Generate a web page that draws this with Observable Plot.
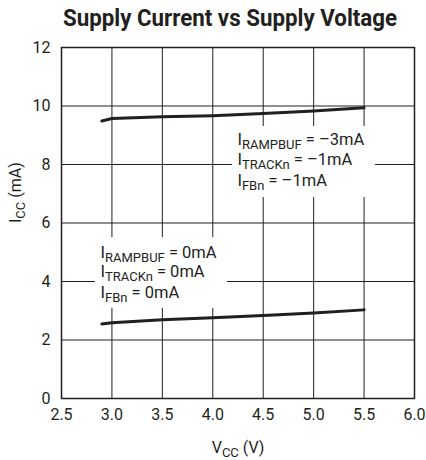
<!DOCTYPE html>
<html>
<head>
<meta charset="utf-8">
<script src="https://cdn.jsdelivr.net/npm/d3@7"></script>
<script src="https://cdn.jsdelivr.net/npm/@observablehq/plot@0.6"></script>
<style>
  body { margin: 0; background: #fff; }
  #title {
    position: relative; height: 34px; width: 426px;
  }
  #title span {
    position: absolute; left: 230px; top: 4px;
    transform: translateX(-50%) scaleX(0.93);
    white-space: nowrap;
    font-family: Roboto, "Liberation Sans", sans-serif;
    font-weight: bold; font-size: 24px; line-height: 28px;
    color: #231f20;
  }
</style>
</head>
<body>
<div id="title"><span>Supply Current vs Supply Voltage</span></div>
<div id="chart"></div>
<script>
// ---- data ----
const vcc = [2.9, 3.0, 3.5, 4.0, 4.5, 5.0, 5.5];
const iccLoaded = [9.49, 9.57, 9.63, 9.67, 9.74, 9.83, 9.94];
const iccNoLoad = [2.55, 2.59, 2.69, 2.76, 2.84, 2.92, 3.03];
const xTicks = [2.5, 3.0, 3.5, 4.0, 4.5, 5.0, 5.5, 6.0];
const yTicks = [0, 2, 4, 6, 8, 10, 12];
const xLabel = "V_{CC} (V)";
const yLabel = "I_{CC} (mA)";
const loadedLabels = ["I_{RAMPBUF} = –3mA", "I_{TRACKn} = –1mA", "I_{FBn} = –1mA"];
const noLoadLabels = ["I_{RAMPBUF} = 0mA", "I_{TRACKn} = 0mA", "I_{FBn} = 0mA"];
// annotation anchors (data units)
const loadedLabelX = 4.244, loadedLabelY = [8.65, 7.97, 7.25];
const noLoadLabelX = 2.887, noLoadLabelY = [4.82, 4.14, 3.45];
const loadedBox = {x1: 4.195, x2: 5.613, y1: 6.87, y2: 9.30};
const noLoadBox = {x1: 2.837, x2: 4.146, y1: 3.08, y2: 5.50};

const loaded = vcc.map((v, i) => ({v, i: iccLoaded[i]}));
const noload = vcc.map((v, i) => ({v, i: iccNoLoad[i]}));
const labels = [
  ...loadedLabels.map((t, k) => ({x: loadedLabelX, y: loadedLabelY[k], t})),
  ...noLoadLabels.map((t, k) => ({x: noLoadLabelX, y: noLoadLabelY[k], t}))
];

const FONT = `Roboto, "Liberation Sans", sans-serif`;
const INK = "#231f20";

const svg = Plot.plot({
  width: 426,
  height: 426,
  marginTop: 13,
  marginBottom: 62,
  marginLeft: 61,
  marginRight: 12,
  style: {fontFamily: FONT, fontSize: "16px", color: INK, background: "#fff"},
  x: {domain: [2.5, 6.0]},
  y: {domain: [0, 12]},
  marks: [
    Plot.ruleX(xTicks, {stroke: INK, strokeWidth: 1}),
    Plot.ruleY(yTicks, {stroke: INK, strokeWidth: 1}),
    Plot.rect([loadedBox, noLoadBox], {x1: "x1", x2: "x2", y1: "y1", y2: "y2", fill: "#fff"}),
    Plot.line(loaded, {x: "v", y: "i", stroke: INK, strokeWidth: 3}),
    Plot.line(noload, {x: "v", y: "i", stroke: INK, strokeWidth: 3}),
    Plot.frame({stroke: INK, strokeWidth: 1.5}),
    Plot.text(labels, {x: "x", y: "y", text: "t", textAnchor: "start", lineAnchor: "bottom", fontSize: 16.5, fill: INK}),
    Plot.axisX({ticks: xTicks, tickSize: 0, tickPadding: 10, tickFormat: d3.format(".1f"), label: null, fontSize: 16}),
    Plot.axisY({ticks: yTicks, tickSize: 0, tickPadding: 11, label: null, fontSize: 16}),
    Plot.text([xLabel], {frameAnchor: "bottom", dy: 54, lineAnchor: "bottom", fontSize: 16, fill: INK}),
    Plot.text([yLabel], {frameAnchor: "left", dx: -46, rotate: -90, fontSize: 16, fill: INK})
  ]
});

// turn "_{...}" into real subscript tspans
d3.select(svg).selectAll("text").each(function() {
  const el = this;
  if (el.children.length) return;
  const s = el.textContent;
  const m = s.match(/^(.*?)_\{(.*?)\}(.*)$/);
  if (!m) return;
  el.textContent = "";
  const sel = d3.select(el);
  sel.append("tspan").text(m[1]);
  sel.append("tspan").attr("dy", 4).attr("font-size", 13).text(m[2]);
  sel.append("tspan").attr("dy", -4).text(m[3]);
});

document.getElementById("chart").appendChild(svg);
</script>
</body>
</html>
